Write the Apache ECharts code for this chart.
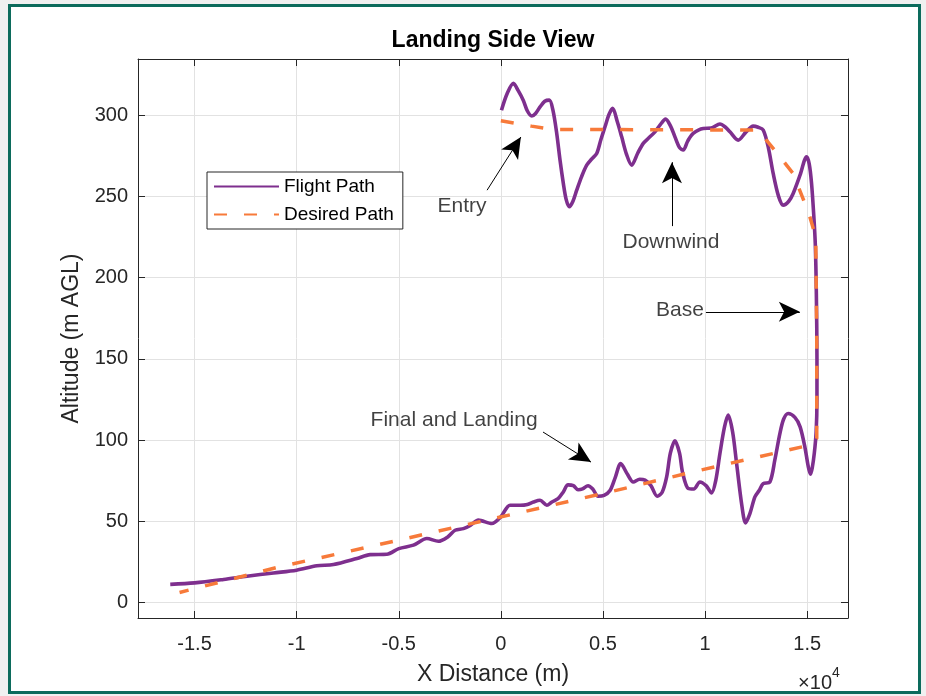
<!DOCTYPE html>
<html><head><meta charset="utf-8">
<script src="https://cdn.jsdelivr.net/npm/echarts@6/dist/echarts.min.js"></script>
<style>
html,body{margin:0;padding:0;background:#f0f0f0;width:926px;height:696px;overflow:hidden;}
#frame{position:absolute;left:8px;top:4px;width:913px;height:690px;box-sizing:border-box;border:3px solid #0c6b5c;background:#fff;}
#chart{position:absolute;left:0;top:0;width:926px;height:696px;}
</style></head>
<body><div id="frame"></div><div id="chart"></div>
<script>
// ---- data ----
const xTicks = [-15000, -10000, -5000, 0, 5000, 10000, 15000];
const yTicks = [0, 50, 100, 150, 200, 250, 300];

const flightX = [30, 300, 612, 850, 1101, 1300, 1512, 1700, 1918, 2150, 2374, 2550, 2736, 2900, 3059, 3200, 3352, 3530, 3715, 3950, 4204, 4450, 4693, 4900, 5100, 5300, 5476, 5700, 5917, 6150, 6406, 6700, 6974, 7250, 7547, 7800, 8070, 8300, 8525, 8750, 8932, 9150, 9421, 9910, 10300, 10728, 11000, 11217, 11623, 12000, 12357, 12600, 12847, 13100, 13336, 13600, 13826, 14100, 14315, 14650, 14970, 15100, 15215, 15328,
  15400, 15450, 15480, 15480, 15440, 15350, 15250, 15166,
  15050, 14900, 14655, 14400, 14070, 13850, 13664, 13420, 13175, 12847, 12650, 12441, 12200, 11985, 11800, 11545, 11350, 11134, 10950, 10728, 10520, 10321, 10050, 9749, 9450, 9176, 8900, 8750, 8525, 8300, 8119, 7900, 7659, 7350, 7057, 6800, 6485, 6200, 5868, 5600, 5345, 5050, 4757, 4500, 4268, 4000, 3778, 3550, 3289, 3050, 2800, 2500, 2250, 1918, 1600, 1300, 940, 450, -5, -445, -1101, -1500, -1835, -2241, -2600, -3059, -3626, -4282, -4997, -5584, -6401, -7052, -8198, -9010, -10008, -11134, -12436, -13581, -15000, -16190];
const flightY = [303, 313, 319.5, 315, 309, 302.5, 299.4, 301, 305, 308.5, 309.2, 303, 288.7, 272, 258, 248, 243.6, 247, 253.8, 262, 269.2, 273, 276.4, 285, 292.8, 300.5, 304.1, 296, 286.6, 276, 269.2, 276.5, 282.6, 286, 289.7, 294, 297.5, 293.5, 286.6, 280, 278.5, 284, 288.7, 291.8, 292, 294.5, 292.5, 289.7, 284.6, 289.5, 293.2, 292.5, 290.8, 280, 264.1, 250, 244.6, 247, 251.8, 263, 274.3, 270, 258, 237.4,
  220, 190, 150, 125, 105, 92, 83, 79,
  84, 95, 108.2, 114, 116.4, 113, 104, 88, 74.3, 73.3, 69, 65.1, 55, 49.1, 60, 85.6, 105, 115.4, 108, 91.8, 75, 67.6, 72, 74.3, 70, 70.3, 80, 92, 99.6, 92, 77.4, 68, 65.5, 72, 75.4, 76, 74.3, 79, 85.6, 77, 69, 66, 65.5, 70, 72, 70, 69.5, 72, 72.5, 68, 64, 62, 60, 63, 62, 60.5, 60, 60, 52.8, 48.7, 50.8, 47.5, 45.6, 44.6, 40.5, 37.8, 39.5, 35.4, 33.3, 29.8, 29.6, 27.2, 23.5, 22.7, 20, 18.3, 16.3, 14.3, 12.2, 11.3];

const desiredX = [0, 1500, 2500, 7000, 12600, 13400, 14315, 14890, 15130, 15420, 15470, 15470, 14970, 9749, 5345, 1100, -1996, -6483, -10968, -15734];
const desiredY = [296.5, 293.2, 291.2, 291, 290.8, 278.5, 264, 245.6, 237.4, 225, 160, 101, 96.5, 81.5, 68.2, 55.9, 47.1, 34.3, 21.7, 6.3];

const annoText = ['Entry', 'Downwind', 'Base', 'Final and Landing'];
const annoTextX = [-1899, 8330, 8770, -2290];
const annoTextY = [244, 221.8, 180, 112.3];
const arrowTailX = [-675, 8379, 10043, 2065];
const arrowTailY = [253.8, 231.7, 179, 105];
const arrowHeadX = [980, 8379, 14643, 4415];
const arrowHeadY = [286.5, 271, 179, 86.5];

// ---- chart ----
const FONT = "'Liberation Sans', Arial, Helvetica, sans-serif";
const PURPLE = '#7E2F8E';
const ORANGE = '#F77A3A';
const AX = '#262626';
const chart = echarts.init(document.getElementById('chart'), null, {renderer: 'canvas'});

const axisLine = {show: true, onZero: false, lineStyle: {color: AX, width: 1}};
const option = {
  animation: false,
  backgroundColor: 'transparent',
  grid: {left: 138, right: 78, top: 59, bottom: 78, containLabel: false},
  xAxis: [
    {type: 'value', min: -17770, max: 17000, position: 'bottom',
     axisLine: axisLine,
     axisTick: {show: true, inside: true, length: 7, customValues: xTicks, lineStyle: {color: AX}},
     axisLabel: {show: true, customValues: xTicks, formatter: v => String(v / 10000), fontSize: 20, color: AX, margin: 16, fontFamily: FONT},
     splitLine: {show: true, lineStyle: {color: '#e2e2e2', width: 1}},
     name: 'X Distance (m)', nameLocation: 'middle', nameGap: 45,
     nameTextStyle: {fontSize: 23, color: AX, fontFamily: FONT}},
    {type: 'value', min: -17770, max: 17000, position: 'top',
     axisLine: axisLine,
     axisTick: {show: true, inside: true, length: 7, customValues: xTicks, lineStyle: {color: AX}},
     axisLabel: {show: false}, splitLine: {show: false}}
  ],
  yAxis: [
    {type: 'value', min: -9.4, max: 334.5, position: 'left',
     axisLine: axisLine,
     axisTick: {show: true, inside: true, length: 7, customValues: yTicks, lineStyle: {color: AX}},
     axisLabel: {show: true, customValues: yTicks, fontSize: 20, color: AX, margin: 10, fontFamily: FONT},
     splitLine: {show: true, lineStyle: {color: '#e2e2e2', width: 1}},
     name: 'Altitude (m AGL)', nameLocation: 'middle', nameGap: 55,
     nameTextStyle: {fontSize: 23, color: AX, fontFamily: FONT}},
    {type: 'value', min: -9.4, max: 334.5, position: 'right',
     axisLine: axisLine,
     axisTick: {show: true, inside: true, length: 7, customValues: yTicks, lineStyle: {color: AX}},
     axisLabel: {show: false}, splitLine: {show: false}}
  ],
  legend: {
    data: ['Flight Path', 'Desired Path'],
    orient: 'vertical', left: 207, top: 172,
    padding: [5, 9, 5, 6], itemGap: 9, itemWidth: 65, itemHeight: 4,
    itemStyle: {opacity: 0},
    backgroundColor: '#fff', borderColor: AX, borderWidth: 1,
    textStyle: {fontSize: 19, color: '#000', fontFamily: FONT},
    selectedMode: false
  },
  graphic: [
    {type: 'text', x: 493, y: 41, style: {text: 'Landing Side View', align: 'center', verticalAlign: 'middle', font: "bold 23px " + FONT, fill: '#000'}},
    {type: 'text', x: 832, y: 683, style: {text: '\u00d710', align: 'right', verticalAlign: 'middle', font: "20px " + FONT, fill: AX}},
    {type: 'text', x: 832, y: 673, style: {text: '4', align: 'left', verticalAlign: 'middle', font: "14px " + FONT, fill: AX}}
  ],
  series: [
    {name: 'Flight Path', type: 'line', xAxisIndex: 0, yAxisIndex: 0,
     data: flightX.map((x, i) => [x, flightY[i]]),
     symbol: 'none', smooth: 0.3, z: 3,
     lineStyle: {color: PURPLE, width: 3.6}, itemStyle: {color: PURPLE}},
    {name: 'Desired Path', type: 'line', xAxisIndex: 0, yAxisIndex: 0,
     data: desiredX.map((x, i) => [x, desiredY[i]]),
     symbol: 'none', z: 4,
     lineStyle: {color: ORANGE, width: 3.5, type: [13, 17]}, itemStyle: {color: ORANGE}},
    {name: 'annotations', type: 'scatter', xAxisIndex: 0, yAxisIndex: 0, silent: true, z: 5,
     data: annoText.map((t, i) => ({name: t, value: [annoTextX[i], annoTextY[i]]})),
     symbolSize: 0.1, itemStyle: {color: '#000'},
     label: {show: true, position: 'inside', formatter: '{b}', fontSize: 21, color: '#111', fontFamily: FONT},
     markLine: {
       silent: true, animation: false,
       symbol: ['none', 'arrow'],
       symbolSize: [[15, 21], [15, 21]],
       itemStyle: {color: '#000'},
       lineStyle: {color: '#000', width: 1, type: 'solid'},
       label: {show: false},
       emphasis: {disabled: true},
       data: annoText.map((t, i) => [
         {coord: [arrowTailX[i], arrowTailY[i]]},
         {coord: [arrowHeadX[i], arrowHeadY[i]], symbol: 'arrow', symbolSize: [15, 21], itemStyle: {color: '#000'}}
       ])
     }}
  ]
};
chart.setOption(option);
</script>
</body></html>
